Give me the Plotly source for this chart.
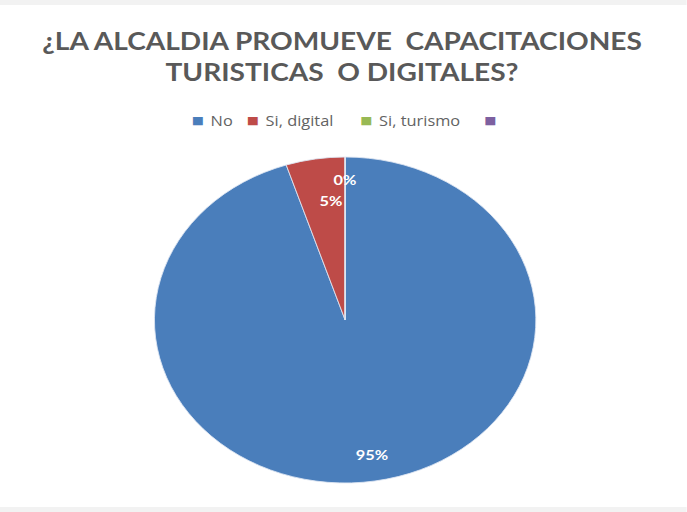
import math
import plotly.graph_objects as go

# Survey answers and their shares (%)
labels = ["No", "Si, digital", "Si, turismo", ""]
values = [95, 5, 0, 0]
colors = ["#4A7EBB", "#BE4B48", "#98B954", "#7D60A0"]
title_lines = ["¿LA ALCALDIA PROMUEVE  CAPACITACIONES", "TURISTICAS  O DIGITALES?"]

# The page is drawn on a narrower canvas and widened horizontally by STRETCH
STRETCH = 1.17
W_OUT, H = 687, 512
W = round(W_OUT / STRETCH)
cx, cy, r = 295, 320, 163  # pie centre and radius in canvas pixels (from top-left)

fig = go.Figure()
fig.add_trace(go.Pie(
    labels=labels,
    values=values,
    sort=False,
    direction="clockwise",
    rotation=0,
    marker=dict(colors=colors, line=dict(color="#DDE6F2", width=0.8)),
    textinfo="none",
    hoverinfo="label+percent",
    domain=dict(x=[(cx - r) / W, (cx + r) / W], y=[(H - cy - r) / H, (H - cy + r) / H]),
    showlegend=False,
))

annotations = []

# Percentage labels placed along each slice's bisector
total = sum(values)
label_radius = [0.90, 0.745, 0.86]
label_xshift = [0, 7, 0]
cum = 0.0
for i, v in enumerate(values[:3]):
    mid = cum + v / 2
    cum += v
    ang = 2 * math.pi * mid / total
    rr = r * label_radius[i]
    px = cx + rr * math.sin(ang)
    py = cy - rr * math.cos(ang)
    annotations.append(dict(
        x=px / W, y=1 - py / H, xref="paper", yref="paper",
        text=f"<b>{v}%</b>", showarrow=False, xshift=label_xshift[i],
        font=dict(family="Lato, Arial", size=14, color="white"),
    ))

# Legend row: coloured square followed by the category name
legend_sq_x = [169, 216, 313, 419]
legend_y = 1 - 120 / H
for lab, col, sx in zip(labels, colors, legend_sq_x):
    annotations.append(dict(
        x=sx / W, y=legend_y, xref="paper", yref="paper", xanchor="center", yanchor="middle",
        text="■", showarrow=False,
        font=dict(family="DejaVu Sans", size=11, color=col),
    ))
    if lab:
        annotations.append(dict(
            x=(sx + 9) / W, y=legend_y, xref="paper", yref="paper", xanchor="left", yanchor="middle",
            text=lab, showarrow=False,
            font=dict(family="Open Sans, Arial", size=14, color="#636363"),
        ))

fig.update_layout(
    width=W, height=H,
    margin=dict(l=0, r=0, t=0, b=0),
    paper_bgcolor="white",
    plot_bgcolor="white",
    showlegend=False,
    title=dict(
        text="<br>".join(title_lines),
        x=0.498, xanchor="center", y=0.903, yanchor="bottom",
        font=dict(family="Lato, Arial", size=24, color="#595959", weight="bold"),
    ),
    annotations=annotations,
    shapes=[
        dict(type="rect", xref="paper", yref="paper", x0=0, x1=1, y0=1 - 5 / H, y1=1,
             fillcolor="#F2F2F2", line=dict(width=0), layer="below"),
        dict(type="rect", xref="paper", yref="paper", x0=0, x1=1, y0=0, y1=5 / H,
             fillcolor="#F2F2F2", line=dict(width=0), layer="below"),
    ],
)

post = (
    "var gd = document.getElementById('{plot_id}');"
    "document.body.style.margin = '0';"
    "document.body.style.overflow = 'hidden';"
    "gd.style.transformOrigin = '0 0';"
    f"gd.style.transform = 'scaleX({STRETCH})';"
)
fig.write_html("out.html", post_script=post, default_width=f"{W}px", default_height=f"{H}px")
